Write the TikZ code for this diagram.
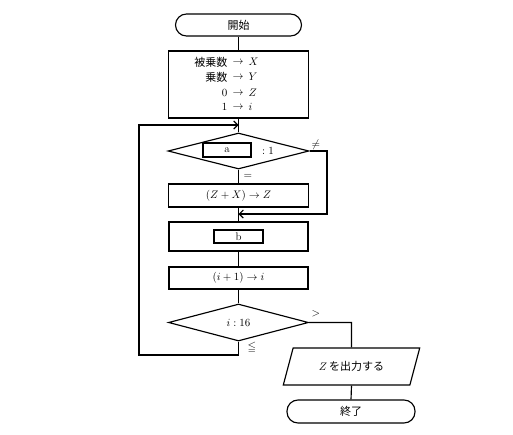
\documentclass[tikz,border=0pt]{standalone}
\usepackage{amssymb}
\usepackage{fontspec}
\newfontfamily\jp{Noto Sans CJK JP}
\usetikzlibrary{shapes.geometric,arrows.meta}
\begin{document}
\begin{tikzpicture}[x=1pt,y=-1pt,font=\fontsize{11}{13}\selectfont,
  line width=1.15pt,
  term/.style={draw,rounded corners=11pt,inner sep=0pt},
  proc/.style={draw,inner sep=0pt},
  inbox/.style={draw,line width=1.8pt,inner sep=0pt},
  dec/.style={draw,diamond,inner sep=0pt},
  txt/.style={inner sep=0pt},
  arr/.style={-{Straight Barb[length=4pt,width=8pt]}}]
\useasboundingbox (0,0) rectangle (513,434);
% nodes
\node[term,minimum width=126pt,minimum height=22pt] (start) at (238.5,25) {\jp 開始};
\node[proc,minimum width=140pt,minimum height=67pt] (init) at (238.5,84.5) {};
\node[txt,anchor=east] (l1a) at (228,62) {\jp 被乗数};
\node[txt] (l1b) at (238,62) {$\rightarrow$};
\node[txt,anchor=west] (l1c) at (248,62) {$X$};
\node[txt,anchor=east] (l2a) at (228,77) {\jp 乗数};
\node[txt] (l2b) at (238,77) {$\rightarrow$};
\node[txt,anchor=west] (l2c) at (248,77) {$Y$};
\node[txt,anchor=east] (l3a) at (228,93) {$0$};
\node[txt] (l3b) at (238,93) {$\rightarrow$};
\node[txt,anchor=west] (l3c) at (248,93) {$Z$};
\node[txt,anchor=east] (l4a) at (228,107) {$1$};
\node[txt] (l4b) at (238,107) {$\rightarrow$};
\node[txt,anchor=west] (l4c) at (248,107) {$i$};
\node[dec,minimum width=141pt,minimum height=36pt] (d1) at (238.5,151) {};
\node[inbox,minimum width=48pt,minimum height=14pt] (a) at (227,150) {a};
\node[txt] (c1) at (268,151) {$:1$};
\node[txt] (eq) at (248,176) {$=$};
\node[txt] (ne) at (316,145) {$\neq$};
\node[proc,minimum width=140pt,minimum height=23pt] (b2) at (238.5,195.5) {$(Z+X)\rightarrow Z$};
\node[proc,minimum width=139pt,minimum height=29pt] (b3) at (238.5,236.5) {};
\node[inbox,minimum width=49pt,minimum height=13pt] (b) at (238.5,236.5) {b};
\node[proc,minimum width=139pt,minimum height=22pt] (b4) at (238.5,278) {$(i+1)\rightarrow i$};
\node[dec,minimum width=140pt,minimum height=37pt] (d2) at (238.5,322.5) {$i:16$};
\node[txt] (gt) at (316,314) {$>$};
\node[txt] (le) at (252,348) {$\leqq$};
\node[draw,trapezium,trapezium stretches=true,trapezium left angle=61.6,trapezium right angle=118.4,
  minimum width=137pt,minimum height=37pt,inner sep=0pt] (out) at (351.5,366.5) {$Z$\,\jp を出力する};
\node[term,minimum width=128pt,minimum height=23pt] (end) at (351,411.5) {\jp 終了};
% coordinates
\coordinate (j1) at (238.5,125);
\coordinate (j2) at (238.5,214);
% connectors
\draw (start) -- (init);
\draw (init) -- (d1.north);
\draw (d1.south) -- (b2.north);
\draw (b2.south) -- (b3.north);
\draw (b3) -- (b4);
\draw (b4.south) -- (d2.north);
\draw[arr] (d1.east) -- (327,151) -- (327,214) -- (j2);
\draw[arr] (d2.south) -- (238.5,355) -- (139,355) -- (139,125) -- (j1);
\draw (d2.east) -- (351.5,322.5) -- (out.north);
\draw (out.south) -- (end.north);
\end{tikzpicture}
\end{document}
